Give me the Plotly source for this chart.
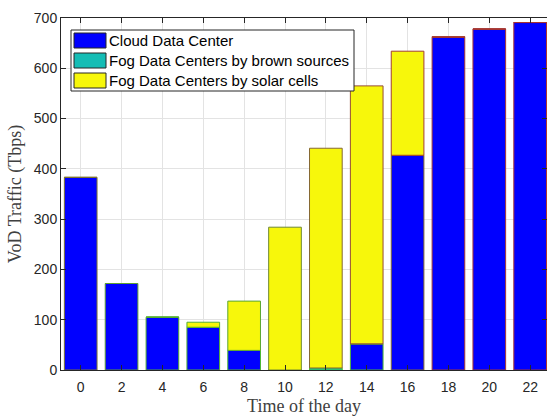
import plotly.graph_objects as go

hours = [0, 2, 4, 6, 8, 10, 12, 14, 16, 18, 20, 22]
cloud = [383, 172, 105, 85, 39, 0, 0, 52, 427, 662, 678, 691]
brown = [0, 0, 0, 0, 0, 0, 4, 0, 0, 0, 0, 0]
solar = [0, 0, 0, 10, 98, 284, 437, 513, 207, 1, 0, 0]

series_names = ["Cloud Data Center", "Fog Data Centers by brown sources", "Fog Data Centers by solar cells"]
series_colors = ["#0000FF", "#15BDB5", "#F7F70B"]
y_ticks = [0, 100, 200, 300, 400, 500, 600, 700]

W, H = 547, 416
ML, MR, MT, MB = 61, 0, 18, 46
PW, PH = W - ML - MR, H - MT - MB


def edge_color(top):
    t = max(0.0, min(1.0, top / 700.0))
    g = (70, 195, 50)
    r = (170, 50, 50)
    c = [int(g[i] * (1 - t) + r[i] * t) for i in range(3)]
    return "rgb(%d,%d,%d)" % tuple(c)


fig = go.Figure()
base = [0] * len(hours)
for name, vals, col in zip(series_names, [cloud, brown, solar], series_colors):
    tops = [b + v for b, v in zip(base, vals)]
    fig.add_trace(go.Bar(
        x=hours, y=vals, base=base, name=name, width=1.6,
        marker=dict(color=col, line=dict(color=[edge_color(t) for t in tops], width=1)),
        showlegend=False, hoverinfo="skip",
    ))
    base = tops

px_per_unit = 20.43
x0 = -19.7 / px_per_unit
x1 = x0 + PW / px_per_unit

title_font = dict(family="Liberation Serif, Times New Roman", size=18, color="#404040")

fig.update_layout(
    width=W, height=H,
    margin=dict(l=ML, r=MR, t=MT, b=MB),
    paper_bgcolor="white", plot_bgcolor="white",
    barmode="overlay",
    font=dict(family="Liberation Sans, Arial", size=14, color="#262626"),
    xaxis=dict(
        range=[x0, x1], tickmode="array", tickvals=hours, ticktext=[str(h) for h in hours],
        showgrid=True, gridcolor="#e3e3e3", gridwidth=1,
        showline=True, linecolor="#262626", linewidth=1, mirror="ticks",
        ticks="inside", ticklen=5, tickcolor="#262626", ticklabelstandoff=4,
        zeroline=False, automargin=False,
        title=dict(text="Time of the day", font=title_font, standoff=5),
    ),
    yaxis=dict(
        range=[0, 700], tickmode="array", tickvals=y_ticks,
        showgrid=True, gridcolor="#e3e3e3", gridwidth=1,
        showline=True, linecolor="#262626", linewidth=1, mirror="ticks",
        ticks="inside", ticklen=5, tickcolor="#262626",
        zeroline=False, automargin=False,
        title=dict(text="VoD Traffic (Tbps)", font=title_font, standoff=7),
    ),
)


def px_x(p):
    return (p - ML) / PW


def px_y(p):
    return (H - MB - p) / PH


fig.add_shape(type="rect", xref="paper", yref="paper",
              x0=px_x(71), x1=px_x(354), y0=px_y(91), y1=px_y(30),
              fillcolor="white", line=dict(color="#262626", width=1), layer="above")
for i, (name, col) in enumerate(zip(series_names, series_colors)):
    top = 33 + i * 20
    fig.add_shape(type="rect", xref="paper", yref="paper",
                  x0=px_x(74), x1=px_x(106), y0=px_y(top + 15), y1=px_y(top),
                  fillcolor=col, line=dict(color="#262626", width=1), layer="above")
    fig.add_annotation(xref="paper", yref="paper", x=px_x(107), y=px_y(top + 7.5),
                       text=name, showarrow=False, xanchor="left", yanchor="middle",
                       font=dict(family="Liberation Sans, Arial", size=15, color="#000000"))

fig.write_html("out.html", config={"displayModeBar": False},
               post_script="document.body.style.margin='0';document.body.style.overflow='hidden';")
